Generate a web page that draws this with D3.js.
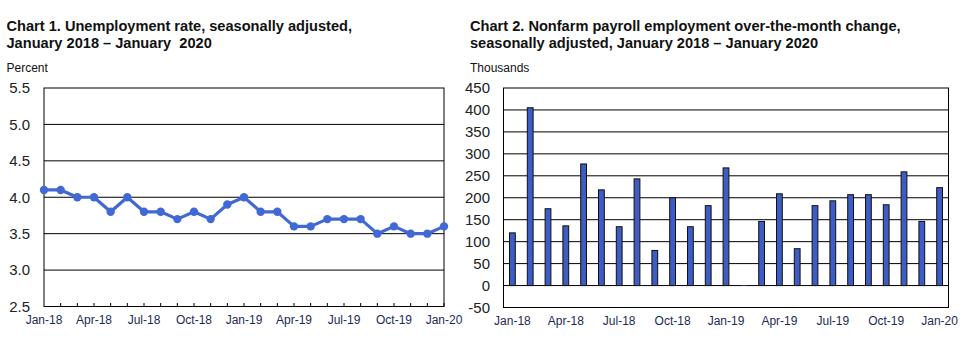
<!DOCTYPE html>
<html>
<head>
<meta charset="utf-8">
<script src="https://cdn.jsdelivr.net/npm/d3@7"></script>
<style>
  body { margin: 0; background: #fff; }
  svg { display: block; font-family: "Liberation Sans", Arial, sans-serif; }
</style>
</head>
<body>
<div id="chart"></div>
<script>
const WIDTH = 965;
const HEIGHT = 339;

// months Jan 2018 .. Jan 2020
const months = ["Jan-18","Feb-18","Mar-18","Apr-18","May-18","Jun-18","Jul-18","Aug-18","Sep-18","Oct-18","Nov-18","Dec-18",
  "Jan-19","Feb-19","Mar-19","Apr-19","May-19","Jun-19","Jul-19","Aug-19","Sep-19","Oct-19","Nov-19","Dec-19","Jan-20"];
const tickLabels = ["Jan-18","Apr-18","Jul-18","Oct-18","Jan-19","Apr-19","Jul-19","Oct-19","Jan-20"];

const unemploymentRate = [4.1,4.1,4.0,4.0,3.8,4.0,3.8,3.8,3.7,3.8,3.7,3.9,
  4.0,3.8,3.8,3.6,3.6,3.7,3.7,3.7,3.5,3.6,3.5,3.5,3.6];
const rateTicks = [2.5,3.0,3.5,4.0,4.5,5.0,5.5];

const payrollChange = [120,405,175,136,277,218,134,243,80,200,134,182,
  268,1,146,209,84,182,193,207,207,184,259,146,223];
const payrollTicks = [-50,0,50,100,150,200,250,300,350,400,450];

const LINE_BLUE = "#4169d6";
const BAR_BLUE = "#3d5cc4";
const LABEL_NAVY = "#1c2a55";

let svg = d3.select("#chart")
  .append("svg")
  .attr("width", WIDTH)
  .attr("height", HEIGHT);

function titleBlock(x, lines, unit){
  let t = svg.append("text")
    .attr("x", x)
    .attr("y", 30.5)
    .style("font-weight", "bold")
    .style("font-size", "14.6px")
    .style("white-space", "pre")
    .attr("fill", "#111");
  lines.forEach((l, i) => {
    t.append("tspan").attr("x", x).attr("dy", i === 0 ? 0 : 17).text(l);
  });
  svg.append("text")
    .attr("x", x)
    .attr("y", 72)
    .style("font-size", "12px")
    .attr("fill", "#111")
    .text(unit);
}

// ---- Chart 1: unemployment rate line ----
titleBlock(6.5, ["Chart 1. Unemployment rate, seasonally adjusted,", "January 2018 \u2013 January  2020"], "Percent");

let x1 = d3.scalePoint().domain(months).range([44, 444]);
let y1 = d3.scaleLinear().domain([2.5, 5.5]).range([306.5, 88]);

let g1 = svg.append("g");

g1.selectAll(".grid1")
  .data(rateTicks.slice(1, -1))
  .enter()
  .append("line")
  .attr("x1", 44).attr("x2", 444)
  .attr("y1", d => y1(d)).attr("y2", d => y1(d))
  .attr("stroke", "#000").attr("stroke-width", 1);

g1.append("rect")
  .attr("x", 44).attr("y", 88)
  .attr("width", 400).attr("height", y1(2.5) - 88)
  .attr("fill", "none").attr("stroke", "#000").attr("stroke-width", 1);

// inward month ticks along the bottom
g1.selectAll(".tick1")
  .data(months.slice(1))
  .enter()
  .append("line")
  .attr("x1", d => x1(d)).attr("x2", d => x1(d))
  .attr("y1", y1(2.5)).attr("y2", y1(2.5) - 3.5)
  .attr("stroke", "#000");

g1.selectAll(".ylab1")
  .data(rateTicks)
  .enter()
  .append("text")
  .attr("x", 30)
  .attr("y", d => y1(d))
  .attr("dy", "0.36em")
  .attr("text-anchor", "end")
  .style("font-size", "15px")
  .attr("fill", "#222")
  .text(d => d.toFixed(1));

g1.selectAll(".xlab1")
  .data(tickLabels)
  .enter()
  .append("text")
  .attr("x", d => x1(d))
  .attr("y", 324)
  .attr("text-anchor", "middle")
  .style("font-size", "12px")
  .attr("fill", LABEL_NAVY)
  .text(d => d);

let line = d3.line()
  .x((d, i) => x1(months[i]))
  .y(d => y1(d));

g1.append("path")
  .datum(unemploymentRate)
  .attr("d", line)
  .attr("fill", "none")
  .attr("stroke", LINE_BLUE)
  .attr("stroke-width", 3.2)
  .attr("stroke-linejoin", "round");

g1.selectAll(".pt")
  .data(unemploymentRate)
  .enter()
  .append("circle")
  .attr("cx", (d, i) => x1(months[i]))
  .attr("cy", d => y1(d))
  .attr("r", 4.2)
  .attr("fill", LINE_BLUE);

// ---- Chart 2: payroll change bars ----
titleBlock(470, ["Chart 2. Nonfarm payroll employment over-the-month change,", "seasonally adjusted, January 2018 \u2013 January 2020"], "Thousands");

let x2 = d3.scaleBand().domain(months).range([503.5, 948.5]);
let y2 = d3.scaleLinear().domain([-50, 450]).range([307.5, 88]);
let barW = 5.8;

let g2 = svg.append("g");

g2.selectAll(".grid2")
  .data(payrollTicks.slice(1, -1))
  .enter()
  .append("line")
  .attr("x1", 503.5).attr("x2", 948.5)
  .attr("y1", d => y2(d)).attr("y2", d => y2(d))
  .attr("stroke", "#000").attr("stroke-width", 1);

g2.selectAll(".bar")
  .data(payrollChange)
  .enter()
  .append("rect")
  .attr("x", (d, i) => x2(months[i]) + x2.bandwidth() / 2 - barW / 2)
  .attr("y", d => y2(Math.max(d, 0)))
  .attr("width", barW)
  .attr("height", d => Math.abs(y2(d) - y2(0)))
  .attr("fill", BAR_BLUE)
  // tiny bars (under a pixel) get no outline
  .attr("stroke", d => Math.abs(y2(d) - y2(0)) < 1 ? "none" : "#111")
  .attr("stroke-width", 1);

g2.append("rect")
  .attr("x", 503.5).attr("y", 88)
  .attr("width", 445).attr("height", y2(-50) - 88)
  .attr("fill", "none").attr("stroke", "#000").attr("stroke-width", 1);

g2.selectAll(".ylab2")
  .data(payrollTicks)
  .enter()
  .append("text")
  .attr("x", 490)
  .attr("y", d => y2(d))
  .attr("dy", "0.36em")
  .attr("text-anchor", "end")
  .style("font-size", "15px")
  .attr("fill", "#222")
  .text(d => d);

g2.selectAll(".xlab2")
  .data(tickLabels)
  .enter()
  .append("text")
  .attr("x", d => x2(d) + x2.bandwidth() / 2)
  .attr("y", 325)
  .attr("text-anchor", "middle")
  .style("font-size", "12px")
  .attr("fill", LABEL_NAVY)
  .text(d => d);
</script>
</body>
</html>
